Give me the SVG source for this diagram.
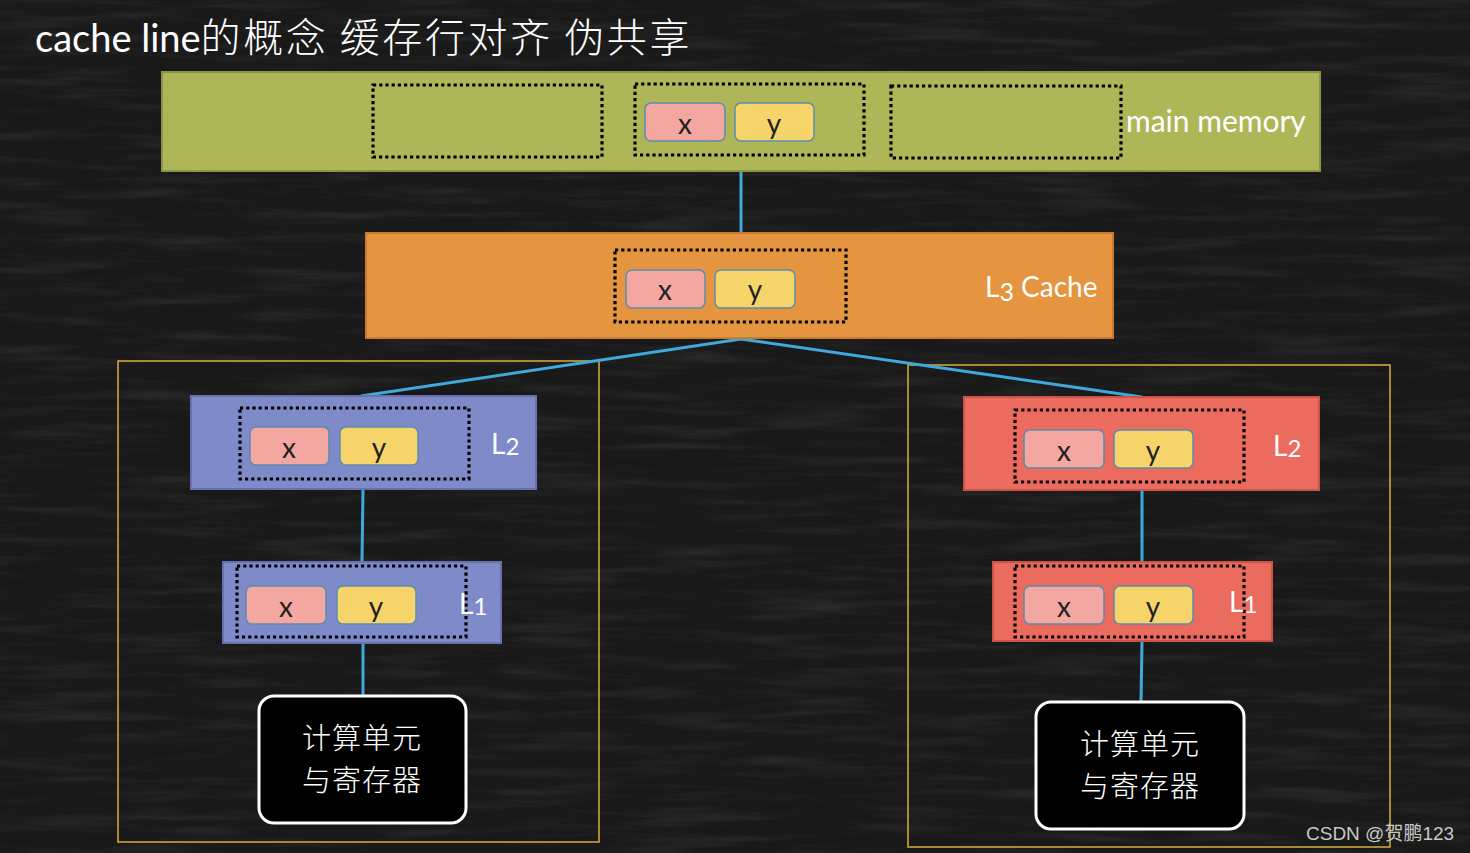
<svg xmlns="http://www.w3.org/2000/svg" width="1470" height="853" viewBox="0 0 1470 853">
<defs>
<filter id="chalk" x="0" y="0" width="100%" height="100%">
<feTurbulence type="fractalNoise" baseFrequency="0.008 0.09" numOctaves="4" seed="7" result="n"/>
<feColorMatrix in="n" type="matrix" values="0 0 0 0 1  0 0 0 0 1  0 0 0 0 1  1.1 0 0 0 -0.5" />
</filter>
<style>
.lbl{font-family:Lato,"Open Sans","Liberation Sans",sans-serif;fill:#fff;font-size:28px}
.cell{stroke:#5A8DAE;stroke-width:1.5}
.cx{fill:#F4A6A0}
.cy{fill:#F6D46A}
.ct{font-family:Lato,"Open Sans","Liberation Sans",sans-serif;font-size:28px;fill:#222;text-anchor:middle}
.dot{fill:none;stroke:#000;stroke-width:3.2;stroke-dasharray:3.2 3}
.conn{stroke:#3FA9DC;stroke-width:3;fill:none}
.frame{fill:none;stroke:#D9AE3C;stroke-width:1.5}
.cpu{fill:#000;stroke:#fff;stroke-width:3}
.cpt{font-family:"Noto Sans CJK SC",sans-serif;font-size:29px;fill:#fff;text-anchor:middle;font-weight:300;letter-spacing:1px}
</style>
</defs>
<rect x="0" y="0" width="1470" height="853" fill="#191919"/>
<rect x="0" y="0" width="1470" height="853" filter="url(#chalk)" opacity="0.15"/>

<text x="35" y="52" font-family="Lato,'Noto Sans CJK SC',sans-serif" font-size="38" fill="#fff">cache line<tspan font-family="'Noto Sans CJK SC',sans-serif" font-weight="300" font-size="40" letter-spacing="2.6">的概念 缓存行对齐 伪共享</tspan></text>

<rect class="frame" x="118" y="361" width="481" height="481"/>
<rect class="frame" x="908" y="365" width="482" height="482"/>

<g id="connectors">
<line class="conn" x1="741" y1="172" x2="741" y2="233"/>
<polyline class="conn" points="361,396 741,339 1142,397"/>
<line class="conn" x1="363" y1="489" x2="362" y2="562"/>
<line class="conn" x1="363" y1="643" x2="363" y2="696"/>
<line class="conn" x1="1142" y1="490" x2="1142" y2="562"/>
<line class="conn" x1="1142" y1="641" x2="1141" y2="702"/>
</g>

<g id="main-memory">
<rect x="162" y="72" width="1158" height="99" fill="#AEB657" stroke="#8C9344" stroke-width="2"/>
<rect class="dot" x="373" y="85" width="229" height="72"/>
<rect class="dot" x="635" y="84" width="229" height="71"/>
<rect class="dot" x="891" y="86" width="230" height="72"/>
<rect class="cell cx" x="645" y="103" width="80" height="38" rx="6"/>
<text class="ct" x="685" y="134">x</text>
<rect class="cell cy" x="735" y="103" width="79" height="38" rx="6"/>
<text class="ct" x="774" y="134">y</text>
<text class="lbl" x="1126" y="132" style="font-size:30px">main memory</text>
</g>

<g id="l3-cache">
<rect x="366" y="233" width="747" height="105" fill="#E5943F" stroke="#C97B30" stroke-width="2"/>
<rect class="dot" x="615" y="250" width="231" height="72"/>
<rect class="cell cx" x="626" y="270" width="79" height="38" rx="6"/>
<text class="ct" x="665" y="300">x</text>
<rect class="cell cy" x="715" y="270" width="80" height="38" rx="6"/>
<text class="ct" x="755" y="300">y</text>
<text class="lbl" x="985" y="297">L<tspan font-size="25" dy="4">3</tspan><tspan dy="-4"> Cache</tspan></text>
</g>

<g id="left-l2">
<rect x="191" y="396" width="345" height="93" fill="#7F8BC9" stroke="#6871AE" stroke-width="2"/>
<rect class="dot" x="240" y="408" width="229" height="71"/>
<rect class="cell cx" x="250" y="427" width="79" height="38" rx="6"/>
<text class="ct" x="289" y="458">x</text>
<rect class="cell cy" x="340" y="427" width="78" height="38" rx="6"/>
<text class="ct" x="379" y="458">y</text>
<text class="lbl" x="491" y="454">L<tspan font-size="24" dy="1">2</tspan></text>
</g>

<g id="left-l1">
<rect x="223" y="562" width="278" height="81" fill="#7F8BC9" stroke="#6871AE" stroke-width="2"/>
<rect class="dot" x="237" y="566" width="229" height="71"/>
<rect class="cell cx" x="246" y="586" width="80" height="38" rx="6"/>
<text class="ct" x="286" y="617">x</text>
<rect class="cell cy" x="337" y="586" width="79" height="38" rx="6"/>
<text class="ct" x="376" y="617">y</text>
<text class="lbl" x="459" y="614">L<tspan font-size="24" dy="1">1</tspan></text>
</g>

<g id="left-cpu">
<rect class="cpu" x="259" y="696" width="207" height="127" rx="15"/>
<text class="cpt"><tspan x="362" y="749">计算单元</tspan><tspan x="362" y="791">与寄存器</tspan></text>
</g>

<g id="right-l2">
<rect x="964" y="397" width="355" height="93" fill="#EB6B5E" stroke="#C8544A" stroke-width="2"/>
<rect class="dot" x="1015" y="410" width="229" height="72"/>
<rect class="cell cx" x="1024" y="430" width="80" height="38" rx="6"/>
<text class="ct" x="1064" y="461">x</text>
<rect class="cell cy" x="1114" y="430" width="79" height="38" rx="6"/>
<text class="ct" x="1153" y="461">y</text>
<text class="lbl" x="1273" y="456">L<tspan font-size="24" dy="1">2</tspan></text>
</g>

<g id="right-l1">
<rect x="993" y="562" width="279" height="79" fill="#EB6B5E" stroke="#C8544A" stroke-width="2"/>
<rect class="dot" x="1015" y="566" width="229" height="71"/>
<rect class="cell cx" x="1024" y="586" width="80" height="38" rx="6"/>
<text class="ct" x="1064" y="617">x</text>
<rect class="cell cy" x="1114" y="586" width="79" height="38" rx="6"/>
<text class="ct" x="1153" y="617">y</text>
<text class="lbl" x="1229" y="612">L<tspan font-size="24" dy="1">1</tspan></text>
</g>

<g id="right-cpu">
<rect class="cpu" x="1036" y="702" width="208" height="127" rx="15"/>
<text class="cpt"><tspan x="1140" y="755">计算单元</tspan><tspan x="1140" y="797">与寄存器</tspan></text>
</g>

<text x="1306" y="840" font-family="'Liberation Sans','Noto Sans CJK SC',sans-serif" font-size="19" fill="#c8c8c8">CSDN @贺鹏123</text>
</svg>
